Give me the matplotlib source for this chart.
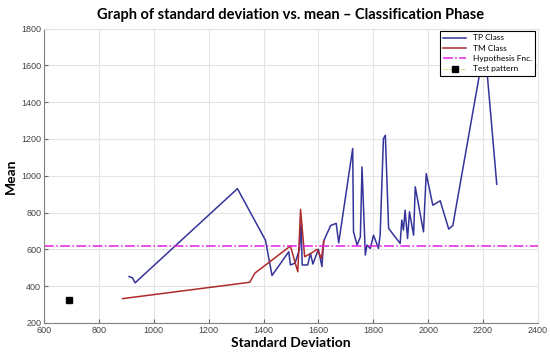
import matplotlib.pyplot as plt
from matplotlib.lines import Line2D
import numpy as np

# TP class trace (std dev, mean)
tp_std = [910, 922, 932, 1305, 1407, 1431, 1492, 1498, 1515, 1531, 1537, 1541,
          1561, 1571, 1580, 1600, 1613, 1619, 1645, 1665, 1674, 1725, 1728,
          1741, 1753, 1759, 1771, 1777, 1789, 1801, 1819, 1825, 1837, 1844,
          1856, 1898, 1904, 1910, 1916, 1925, 1932, 1947, 1953, 1983, 1993,
          2017, 2044, 2075, 2090, 2200, 2215, 2250]
tp_mean = [452, 446, 418, 930, 650, 458, 587, 515, 525, 600, 740, 515,
           515, 578, 520, 600, 506, 645, 730, 741, 635, 1148, 695,
           623, 668, 1048, 569, 623, 605, 677, 605, 677, 1202, 1220,
           714, 632, 759, 705, 813, 659, 804, 677, 940, 695, 1012,
           840, 864, 710, 730, 1660, 1560, 954]

# TM class trace
tm_std = [886, 1350, 1368, 1498, 1525, 1535, 1550, 1575, 1595, 1611, 1620]
tm_mean = [332, 421, 470, 618, 478, 817, 560, 580, 600, 551, 645]

hyp_level = 620
test_std = [690]
test_mean = [325]

blue = '#34349a'
red = '#b02a2a'
magenta = '#e020e0'

fig = plt.figure(figsize=(5.5, 3.58), dpi=100)
ax = fig.add_axes([0.08, 0.098, 0.898, 0.822])

ax.plot(tp_std, tp_mean, color=blue, lw=1.1)
ax.plot(tm_std, tm_mean, color=red, lw=1.1)
ax.axhline(hyp_level, color=magenta, lw=1.1, ls='-.')
ax.plot(test_std, test_mean, 's', color='black', ms=5)

ax.set_xlim(600, 2400)
ax.set_ylim(200, 1800)
ax.set_xticks(np.arange(600, 2401, 200))
ax.set_yticks(np.arange(200, 1801, 200))
ax.grid(True, color='#e4e4e4', lw=0.8)
ax.set_axisbelow(True)
ax.tick_params(direction='in', length=3, labelsize=6.5, colors='#666666',
               labelcolor='#444444', pad=2)
for t in ax.get_xticklabels() + ax.get_yticklabels():
    t.set_fontfamily('Liberation Sans')
for s in ['left', 'bottom']:
    ax.spines[s].set_color('#808080')
for s in ['top', 'right']:
    ax.spines[s].set_color('#e4e4e4')

ax.set_title('Graph of standard deviation vs. mean \u2013 Classification Phase',
             fontsize=10.5, fontweight='bold', family='Lato', pad=7)
ax.set_xlabel('Standard Deviation', fontsize=10, fontweight='bold', family='Lato',
              labelpad=2)
ax.set_ylabel('Mean', fontsize=10, fontweight='bold', family='Lato', labelpad=3)

handles = [Line2D([], [], color=blue, lw=1.1),
           Line2D([], [], color=red, lw=1.1),
           Line2D([], [], color=magenta, lw=1.1, ls='-.'),
           Line2D([], [], color='#dde08a', lw=0.8, ls='--', marker='s',
                  mfc='black', mec='black', ms=4)]
labels = ['TP Class', 'TM Class', 'Hypothesis Fnc.', 'Test pattern']
leg = ax.legend(handles, labels, loc='upper right', frameon=True,
                fancybox=False, edgecolor='black', framealpha=1,
                borderaxespad=0.3, handlelength=2.8, labelspacing=0.4,
                prop={'family': 'Lato', 'size': 6})
leg.get_frame().set_linewidth(0.8)

fig.savefig('out.png', dpi=100)
